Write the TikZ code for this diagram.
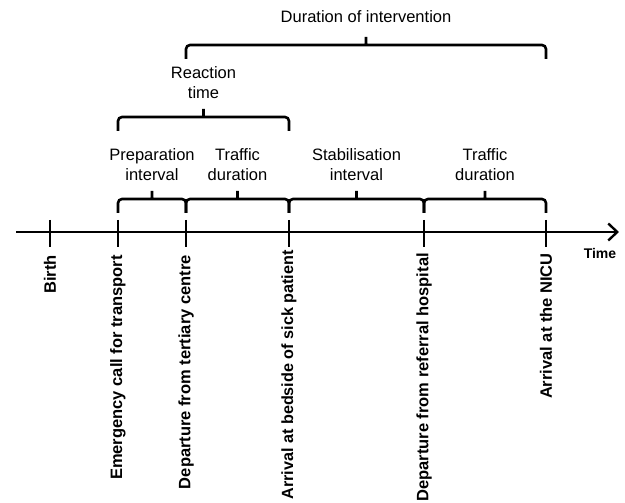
\documentclass[tikz,border=0pt]{standalone}
\usepackage{fontspec}
\setmainfont{Liberation Sans}
\usetikzlibrary{arrows.meta,calc,positioning}

\tikzset{
  axisline/.style={line width=2.4pt},
  ivbrace/.style={line width=2.6pt, rounded corners=4pt},
  spanlabel/.style={align=center, font=\fontsize{16.5}{20}\selectfont},
  ptlabel/.style={rotate=90, inner sep=2pt, font=\fontsize{16.5}{20}\selectfont\bfseries}
}

\begin{document}
\begin{tikzpicture}[x=1pt, y=1pt]
      \useasboundingbox (0,-271) rectangle (625,232);
      % time axis and its points
      \coordinate (start) at (16,0);
      \coordinate (end) at (619,0);
      \coordinate (birth) at (50,0);
      \coordinate (call) at (118,0);
      \coordinate (dep) at (186,0);
      \coordinate (bed) at (289,0);
      \coordinate (ref) at (424,0);
      \coordinate (nicu) at (546,0);
      \draw[axisline, -{Straight Barb[length=9pt,width=17pt]}] (start) -- (end);
      \foreach \p in {birth,call,dep,bed,ref,nicu}
        \draw[axisline] ($(\p)+(0,12)$) -- ($(\p)+(0,-15)$);
      \node (timelab) at (600,-21) {\fontsize{14}{16}\selectfont\bfseries Time};

      % braces over the intervals
      \foreach \a/\b/\h in {call/dep/33, dep/bed/33, bed/ref/33, ref/nicu/33,
                            call/bed/115, dep/nicu/187}
        \draw[ivbrace] ($(\a)+(0,\h-14)$) -- ($(\a)+(0,\h)$) -- ($(\b)+(0,\h)$)
                       -- ($(\b)+(0,\h-14)$)
                       ($(\a)!.5!(\b)+(0,\h)$) -- ++(0,8);

      \node[spanlabel] (prep) at (152,67) {Preparation\\interval};
      \node[spanlabel] (traffa) at (237.5,67) {Traffic\\duration};
      \node[spanlabel] (stab) at (356.5,67) {Stabilisation\\interval};
      \node[spanlabel] (traffb) at (485,67) {Traffic\\duration};
      \node[spanlabel] (react) at (203.5,149) {Reaction\\time};
      \node[spanlabel] (durint) at (366,215) {Duration of intervention};

      % events below the axis
      \node[ptlabel, below=21pt of birth, anchor=east] (birthlab) {Birth};
      \node[ptlabel, below=21pt of call, anchor=east] (calllab) {Emergency call for transport};
      \node[ptlabel, below=21pt of dep, anchor=east] (deplab) {Departure from tertiary centre};
      \node[ptlabel, below=16pt of bed, anchor=east,
            font=\fontsize{16.2}{20}\selectfont\bfseries] (bedlab) {Arrival at bedside of sick patient};
      \node[ptlabel, below=19pt of ref, anchor=east] (reflab) {Departure from referral hospital};
      \node[ptlabel, below=19pt of nicu, anchor=east] (niculab) {Arrival at the NICU};
\end{tikzpicture}
\end{document}
